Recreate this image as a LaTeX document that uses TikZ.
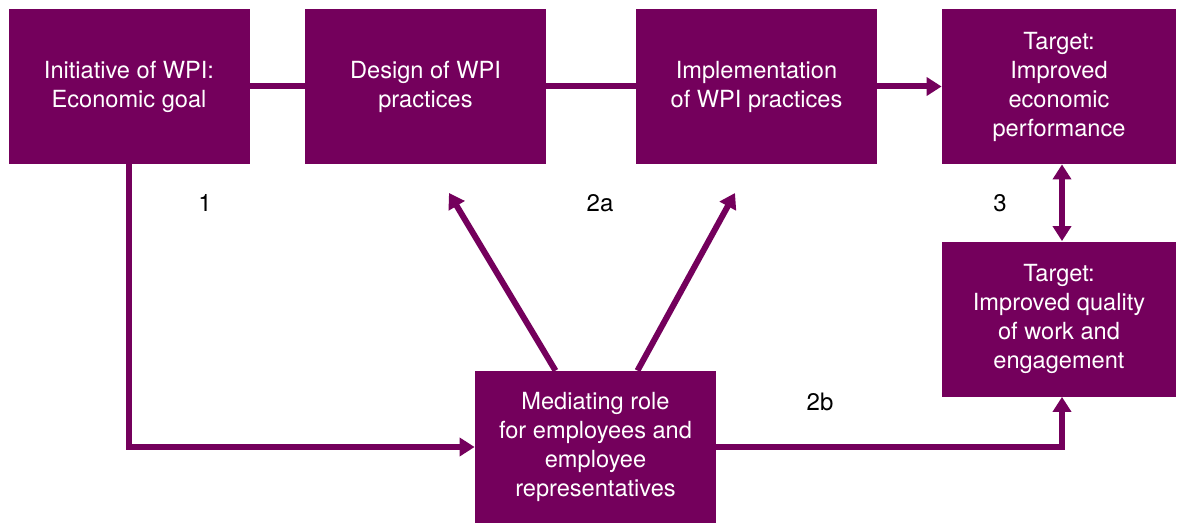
\documentclass[tikz,border=0pt]{standalone}
\usepackage{fontspec}
\setmainfont{TeX Gyre Heros}
\usetikzlibrary{arrows.meta}
\definecolor{wpipurple}{RGB}{116,0,92}

\begin{document}
\begin{tikzpicture}[x=0.5pt, y=-0.5pt, >={Triangle[length=7.5pt,width=9pt]},
        box/.style={fill=wpipurple, text=white, minimum width=120.5pt, minimum height=77.5pt,
            inner sep=0pt, align=center, font=\fontsize{11.8}{14.5}\selectfont},
        link/.style={draw=wpipurple, line width=3pt},
        num/.style={font=\fontsize{12}{14}\selectfont}]
        \useasboundingbox (0,0) rectangle (1178,524);

        \node[box] (init) at (129,86.5) {Initiative of WPI:\\Economic goal};
        \node[box] (design) at (425.5,86.5) {Design of WPI\\practices};
        \node[box] (impl) at (756.5,86.5) {Implementation\\of WPI practices};
        \node[box, minimum width=117pt] (econ) at (1059,86.5) {Target:\\Improved\\economic\\performance};
        \node[box, minimum width=117pt] (quality) at (1059,319) {Target:\\Improved quality\\of work and\\engagement};
        \node[box, minimum height=76pt] (med) at (595.5,447) {Mediating role\\for employees and\\employee\\representatives};

        \coordinate (designtip) at (449,193);
        \coordinate (impltip) at (735,193);

        \draw[link] (init) -- (design);
        \draw[link] (design) -- (impl);
        \draw[link,->] (impl) -- (econ);
        \draw[link,<->] ([xshift=1.5pt]econ.south) -- ([xshift=1.5pt]quality.north);
        \draw[link,->] (init.south) |- (med.west);
        \draw[link,->] (med.east) -| ([xshift=1.5pt]quality.south);
        \draw[link,->] ([xshift=-20pt]med.north) -- (designtip);
        \draw[link,->] ([xshift=21pt]med.north) -- (impltip);

        \node[num] (n1) at (205,203) {1};
        \node[num] (n2a) at (600,203) {2a};
        \node[num] (n3) at (1000,203) {3};
        \node[num] (n2b) at (820,402) {2b};
    \end{tikzpicture}
\end{document}
